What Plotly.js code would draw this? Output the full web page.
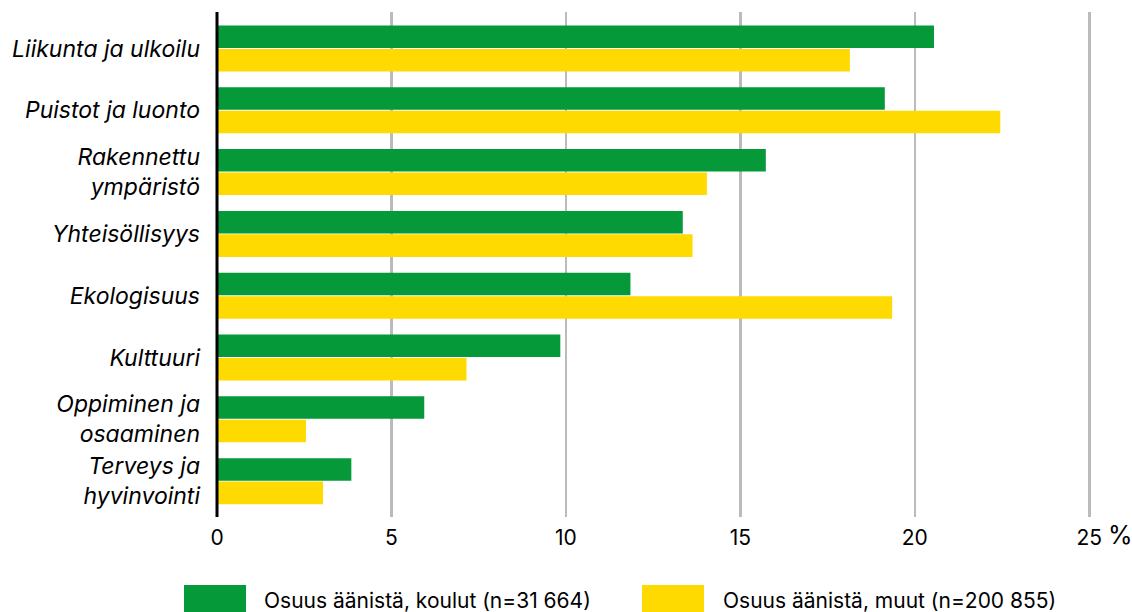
<!DOCTYPE html>
<html>
<head>
<meta charset="utf-8">
<script src="https://cdn.plot.ly/plotly-3.0.1.min.js"></script>
<style>html,body{margin:0;padding:0;background:#fff;}#chart{width:1132px;height:612px;}</style>
</head>
<body>
<div id="chart"></div>
<script>
const categories = ["Liikunta ja ulkoilu", "Puistot ja luonto", "Rakennettu<br>ympäristö", "Yhteisöllisyys", "Ekologisuus", "Kulttuuri", "Oppiminen ja<br>osaaminen", "Terveys ja<br>hyvinvointi"];
const koulut = [20.55, 19.14, 15.73, 13.35, 11.85, 9.84, 5.94, 3.85];
const muut = [18.14, 22.45, 14.04, 13.63, 19.35, 7.15, 2.55, 3.04];
const seriesNames = ["Osuus äänistä, koulut (n=31 664)", "Osuus äänistä, muut (n=200 855)"];
const xTicks = [0, 5, 10, 15, 20, 25];
const colors = ["#06993A", "#FFDA00"];

const W = 1132, H = 612, L = 217, R = 41, T = 12, B = 95;
const pw = W - L - R, ph = H - T - B;
const px = x => (x - L) / pw;
const py = y => (H - B - y) / ph;

const font = "Inter, 'Liberation Sans', sans-serif";

const traces = [
  {type: "bar", orientation: "h", y: categories, x: koulut, name: seriesNames[0], marker: {color: colors[0]}, hoverinfo: "x"},
  {type: "bar", orientation: "h", y: categories, x: muut, name: seriesNames[1], marker: {color: colors[1]}, hoverinfo: "x"}
];

const shapes = [
  {type: "rect", xref: "paper", yref: "paper", x0: px(184), x1: px(246), y0: py(585), y1: py(614), fillcolor: colors[0], line: {width: 0}},
  {type: "rect", xref: "paper", yref: "paper", x0: px(642), x1: px(704), y0: py(585), y1: py(614), fillcolor: colors[1], line: {width: 0}},
  {type: "line", xref: "paper", yref: "paper", x0: 0, x1: 0, y0: 0, y1: 1, line: {color: "#000", width: 3}}
];

const annotations = [
  {xref: "paper", yref: "paper", x: px(262), y: py(600), xanchor: "left", yanchor: "middle", text: seriesNames[0], showarrow: false, font: {family: font, size: 21, color: "#000"}},
  {xref: "paper", yref: "paper", x: px(721), y: py(600), xanchor: "left", yanchor: "middle", text: seriesNames[1], showarrow: false, font: {family: font, size: 21, color: "#000"}},
  {xref: "paper", yref: "paper", x: px(1106), y: py(535), xanchor: "left", yanchor: "middle", text: "%", showarrow: false, font: {family: font, size: 25, color: "#000"}}
];

const layout = {
  width: W, height: H,
  margin: {l: L, r: R, t: T, b: B, pad: 0},
  paper_bgcolor: "#fff", plot_bgcolor: "#fff",
  barmode: "group", bargap: 0.24, bargroupgap: 0.04,
  showlegend: false,
  xaxis: {
    range: [0, 25.05], tickvals: xTicks, ticktext: xTicks.map(String),
    showgrid: true, gridcolor: "#BBBBBB", gridwidth: 2.5,
    zeroline: false, showline: false, ticks: "",
    ticklabelstandoff: 6,
    tickfont: {family: font, size: 21, color: "#000"}
  },
  yaxis: {
    type: "category", range: [7.58, -0.59],
    showgrid: false, zeroline: false, showline: false, ticks: "",
    ticklabelstandoff: 16,
    tickfont: {family: font, size: 23, color: "#000", style: "italic"}
  },
  shapes: shapes,
  annotations: annotations
};

Plotly.newPlot("chart", traces, layout, {displayModeBar: false, staticPlot: true});
</script>
</body>
</html>
